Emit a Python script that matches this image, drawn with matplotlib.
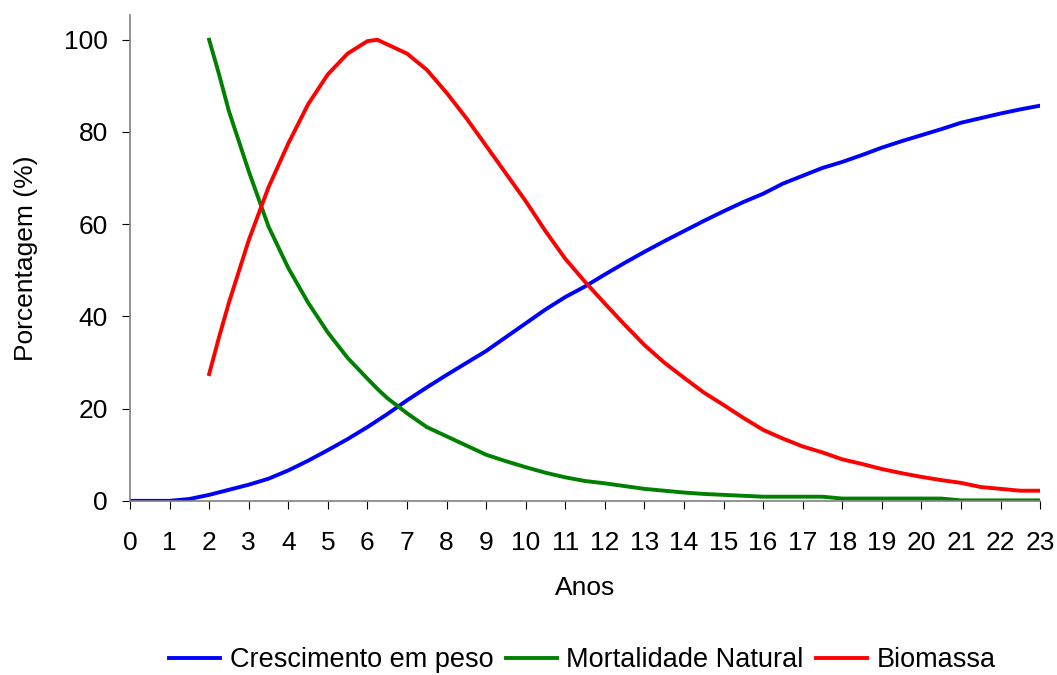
import numpy as np
import matplotlib.pyplot as plt

plt.rcParams['font.family'] = ['Liberation Sans', 'DejaVu Sans']

anos_cresc = [0, 0.5, 1, 1.5, 2, 2.5, 3, 3.5, 4, 4.5, 5, 5.5, 6, 6.5, 7, 7.5, 8, 8.5,
              9, 9.5, 10, 10.5, 11, 11.5, 12, 12.5, 13, 13.5, 14, 14.5, 15, 15.5,
              16, 16.5, 17, 17.5, 18, 18.5, 19, 19.5, 20, 20.5, 21, 21.5, 22, 22.5, 23]
crescimento = [0, 0, 0, 0.4, 1.3, 2.4, 3.5, 4.8, 6.6, 8.7, 11.0, 13.4, 16.0, 18.8, 21.8,
               24.6, 27.3, 29.9, 32.5, 35.5, 38.5, 41.5, 44.2, 46.5, 49.1, 51.6, 54.0,
               56.3, 58.5, 60.7, 62.8, 64.8, 66.6, 68.8, 70.5, 72.2, 73.5, 75.0, 76.6,
               78.0, 79.3, 80.6, 82.0, 83.0, 84.0, 84.9, 85.7]

anos = [2, 2.25, 2.5, 3, 3.5, 4, 4.5, 5, 5.5, 6, 6.25, 6.5, 7, 7.5, 8, 8.5, 9, 9.5, 10,
        10.5, 11, 11.5, 12, 12.5, 13, 13.5, 14, 14.5, 15, 15.5, 16, 16.5, 17, 17.5,
        18, 18.5, 19, 19.5, 20, 20.5, 21, 21.5, 22, 22.5, 23]
mortalidade = [100, 92.5, 84.5, 71.5, 59.5, 50.5, 43, 36.5, 31, 26.5, 24.3, 22.3, 19,
               16, 14, 12, 10, 8.6, 7.3, 6.1, 5.1, 4.3, 3.8, 3.2, 2.6, 2.2, 1.8, 1.5,
               1.3, 1.1, 0.9, 0.9, 0.9, 0.9, 0.5, 0.5, 0.5, 0.5, 0.5, 0.5, 0.1, 0.1,
               0.1, 0.1, 0.1]
biomassa = [27.5, 35.5, 43, 56.5, 68, 77.5, 86, 92.5, 97, 99.7, 100, 99, 97, 93.5,
            88.5, 83, 77, 71, 65, 58.5, 52.5, 47.5, 42.8, 38.2, 33.8, 30, 26.7, 23.5,
            20.8, 18, 15.4, 13.5, 11.8, 10.5, 9, 8, 6.9, 6, 5.2, 4.5, 3.9, 3, 2.6,
            2.2, 2.2]

fig = plt.figure(figsize=(10.57, 6.75), dpi=100)
ax = fig.add_axes([0.123, 0.258, 0.861, 0.72])

ax.plot(anos_cresc, crescimento, color='#0000ff', lw=2.8, label='Crescimento em peso')
ax.plot(anos, mortalidade, color='#008000', lw=2.8, label='Mortalidade Natural')
ax.plot(anos, biomassa, color='#ff0000', lw=2.8, label='Biomassa')

ax.set_xlim(0, 23)
ax.set_ylim(0, 105.4)
ax.set_xticks(range(0, 24))
ax.set_yticks(range(0, 101, 20))
for s in ['top', 'right']:
    ax.spines[s].set_visible(False)
for s in ['left', 'bottom']:
    ax.spines[s].set_color('#808080')
    ax.spines[s].set_linewidth(1.2)
ax.tick_params(labelsize=19, length=6, color='black')
ax.tick_params(axis='x', pad=16)
ax.tick_params(axis='y', pad=10)
ax.set_xlabel('Anos', fontsize=19)
ax.set_ylabel('Porcentagem (%)', fontsize=19)
ax.xaxis.set_label_coords(0.5, -0.155)
ax.yaxis.set_label_coords(-0.101, 0.5)

fig.legend(loc='center', bbox_to_anchor=(0.551, 0.022), ncol=3, frameon=False,
           fontsize=19.5, handlelength=1.9, handletextpad=0.35, columnspacing=0.45)

fig.savefig('out.png', dpi=100)
